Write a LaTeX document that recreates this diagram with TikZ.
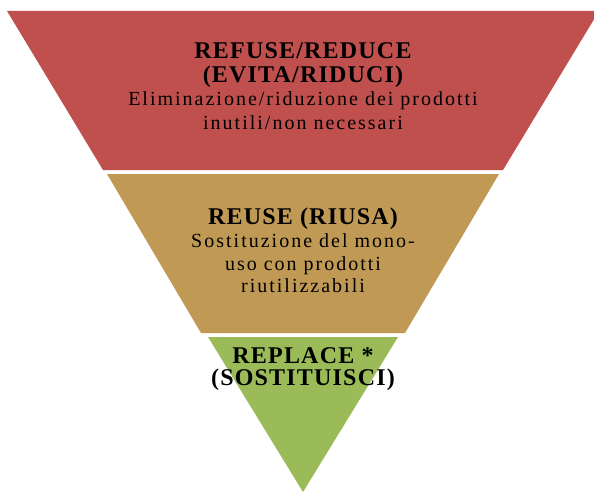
\documentclass[tikz,border=0pt]{standalone}
\usepackage{fontspec}
\setmainfont{Liberation Serif}
\newfontfamily\hfont[LetterSpace=5]{Liberation Serif}
\newfontfamily\dfont[LetterSpace=10]{Liberation Serif}
\definecolor{bandred}{HTML}{C0504D}
\definecolor{bandtan}{HTML}{C09A55}
\definecolor{bandgreen}{HTML}{9BBB59}
\tikzset{
  band/.style={draw=none},
  head/.style={inner sep=0pt, anchor=base, text=black, font=\hfont\bfseries\fontsize{24}{24}\selectfont},
  desc/.style={inner sep=0pt, anchor=base, text=black, font=\dfont\fontsize{20}{23}\selectfont},
}
\begin{document}
\begin{tikzpicture}[x=1pt,y=-1pt]
\useasboundingbox (0,0) rectangle (594,492);
\fill[white] (0,0) rectangle (594,492);
% bands
\fill[band, bandred] (7,11) -- (599,11) -- (503,170) -- (103,170) -- cycle;
\fill[band, bandtan] (107,174) -- (499,174) -- (405,333) -- (201,333) -- cycle;
\fill[band, bandgreen] (208,337) -- (398,337) -- (303,492) -- cycle;
% texts
\node[head] (t1a) at (303,59) {REFUSE/REDUCE};
\node[head] (t1b) at (303,83) {(EVITA/RIDUCI)};
\node[desc] (t1c) at (303,106) {Eliminazione/riduzione dei prodotti};
\node[desc] (t1d) at (303,129) {inutili/non necessari};
\node[head] (t2a) at (303,224) {REUSE (RIUSA)};
\node[desc] (t2b) at (303,247) {Sostituzione del mono-};
\node[desc] (t2c) at (303,270) {uso con prodotti};
\node[desc] (t2d) at (303,292) {riutilizzabili};
\node[head] (t3a) at (303,363) {REPLACE *};
\node[head] (t3b) at (303,385) {(SOSTITUISCI)};
\end{tikzpicture}
\end{document}
